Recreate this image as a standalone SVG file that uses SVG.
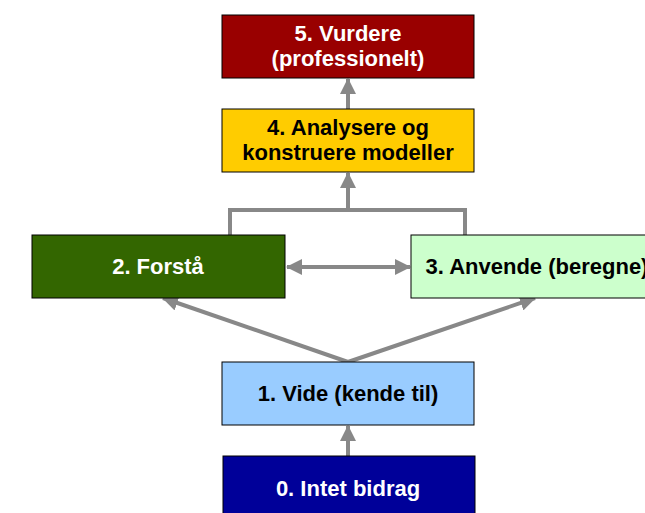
<svg xmlns="http://www.w3.org/2000/svg" width="645" height="513" viewBox="0 0 645 513">
<style>
.box{stroke:#000;stroke-width:1}
.t{font-family:"Liberation Sans",Arial,sans-serif;font-weight:bold;font-size:22px;text-anchor:middle}
.w{fill:#fff}
.k{fill:#000}
.c{fill:none;stroke:#888;stroke-width:4}
</style>
<defs>
<marker id="ah" markerUnits="userSpaceOnUse" markerWidth="16" markerHeight="16" viewBox="0 0 16 16" refX="15" refY="8" orient="auto-start-reverse">
<path d="M0,0 L16,8 L0,16 z" fill="#888"/>
</marker>
</defs>
<rect width="645" height="513" fill="#fff"/>
<g id="connectors">
<line class="c" x1="348" y1="109" x2="348" y2="79" marker-end="url(#ah)"/>
<path class="c" d="M230,235 V210 H465 V235"/>
<line class="c" x1="348" y1="210" x2="348" y2="173" marker-end="url(#ah)"/>
<line class="c" x1="287" y1="267" x2="410" y2="267" marker-start="url(#ah)" marker-end="url(#ah)"/>
<line class="c" x1="348" y1="362" x2="163" y2="298" marker-end="url(#ah)"/>
<line class="c" x1="348" y1="362" x2="535" y2="298" marker-end="url(#ah)"/>
<line class="c" x1="348" y1="456" x2="348" y2="426" marker-end="url(#ah)"/>
</g>
<g id="n5">
<rect class="box" x="222" y="15" width="252" height="63" fill="#990000"/>
<text class="t w" x="348" y="41">5. Vurdere</text>
<text class="t w" x="348" y="66">(professionelt)</text>
</g>
<g id="n4">
<rect class="box" x="222" y="109" width="252" height="63" fill="#FFCC00"/>
<text class="t k" x="348" y="135">4. Analysere og</text>
<text class="t k" x="348" y="160">konstruere modeller</text>
</g>
<g id="n2">
<rect class="box" x="32" y="235" width="253" height="63" fill="#336600"/>
<text class="t w" x="158" y="274">2. Forstå</text>
</g>
<g id="n3">
<rect class="box" x="411" y="235" width="253" height="63" fill="#CCFFCC"/>
<text class="t k" x="537" y="274">3. Anvende (beregne)</text>
</g>
<g id="n1">
<rect class="box" x="222" y="362" width="252" height="63" fill="#99CCFF"/>
<text class="t k" x="348" y="401">1. Vide (kende til)</text>
</g>
<g id="n0">
<rect class="box" x="223" y="456" width="252" height="63" fill="#000099"/>
<text class="t w" x="348" y="496">0. Intet bidrag</text>
</g>
</svg>
